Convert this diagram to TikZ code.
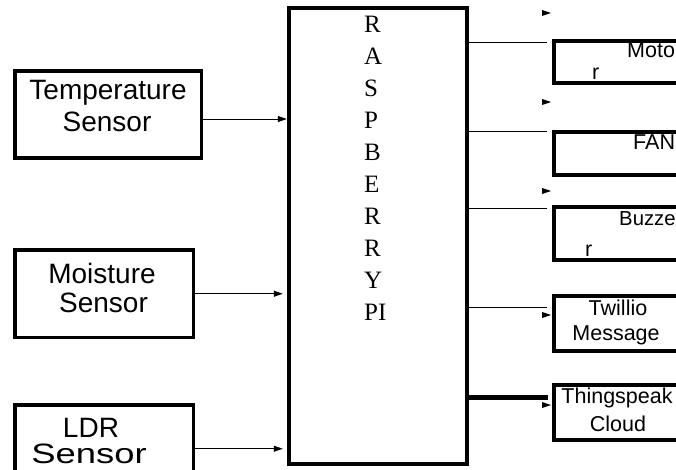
\documentclass[tikz,border=0pt]{standalone}
\usepackage{fontspec}
\setmainfont{Liberation Serif}
\newfontfamily\arialfont{Liberation Sans}
\usetikzlibrary{arrows.meta}
\begin{document}
\begin{tikzpicture}[x=1pt,y=-1pt,
  sensorbox/.style={draw, line width=3.5pt, inner sep=0pt},
  outbox/.style={draw, line width=4pt, inner sep=0pt, minimum width=130pt, anchor=north west},
  bigtxt/.style={font=\arialfont\fontsize{28}{32}\selectfont, inner sep=0pt, anchor=base},
  smalltxt/.style={font=\arialfont\fontsize{21.5}{25}\selectfont, inner sep=0pt},
  rpitxt/.style={font=\fontsize{25}{30}\selectfont, inner sep=0pt, anchor=base west},
  conn/.style={line width=0.8pt},
  arr/.style={conn, -{Triangle[length=9pt,width=6pt]}},
]
\useasboundingbox (0,0) rectangle (676,470);
\fill[white] (0,0) rectangle (676,470);
\clip (0,0) rectangle (676,470);

% main block
\node[draw, line width=4.5pt, inner sep=0pt, minimum width=178pt, minimum height=456pt] (rpi) at (378,236) {};
\foreach \t [count=\i from 0] in {R,A,S,P,B,E,R,R,Y,PI}
  \node[rpitxt] (l\i) at (364,{33+31.9*\i}) {\t};

% sensors
\node[sensorbox, minimum width=186.5pt, minimum height=87pt] (temp) at (108.25,114.5) {};
\node[sensorbox, minimum width=178.5pt, minimum height=87.5pt] (moist) at (104.25,293.75) {};
\node[sensorbox, minimum width=178.5pt, minimum height=87.5pt] (ldr) at (104.25,448.75) {};
\node[bigtxt] (t1) at (108,100) {Temperature};
\node[bigtxt] (t2) at (107,132) {Sensor};
\node[bigtxt] (m1) at (102,283) {Moisture};
\node[bigtxt] (m2) at (103.5,312) {Sensor};
\node[bigtxt] (d1) at (91,437) {LDR};
\node[bigtxt, font=\arialfont\fontsize{28}{32}\selectfont, xscale=1.3] (d2) at (89,463.5) {Sensor};

% outputs
\node[outbox, minimum height=42.5pt] (motor) at (552,39) {};
\node[outbox, minimum height=43.5pt] (fan) at (552,130) {};
\node[outbox, minimum height=53pt] (buzz) at (552,205) {};
\node[outbox, minimum height=55.5pt] (twil) at (552,293.5) {};
\node[outbox, minimum height=55pt] (thing) at (552,382.5) {};

\node[smalltxt, anchor=base west] (mo1) at (627,58) {Moto};
\node[smalltxt, anchor=base west] (mo2) at (592,80) {r};
\node[smalltxt, anchor=base west] (fa1) at (633,150) {FAN};
\node[smalltxt, anchor=base west, font=\arialfont\fontsize{20.3}{25}\selectfont] (bu1) at (619,225) {Buzze};
\node[smalltxt, anchor=base west] (bu2) at (585,256) {r};
\node[smalltxt, anchor=base] (tw1) at (618,315) {Twillio};
\node[smalltxt, anchor=base] (tw2) at (616,340) {Message};
\node[smalltxt, anchor=base] (th1) at (617,403) {Thingspeak};
\node[smalltxt, anchor=base] (th2) at (618,431) {Cloud};

% input connectors
\draw[arr] (temp.east |- 0,119) -- (rpi.west |- 0,119);
\draw[arr, shorten >=4pt] (moist.east) -- (rpi.west |- moist.east);
\draw[arr, shorten >=4pt] (ldr.east) -- (rpi.west |- ldr.east);

% output connectors
\draw[conn, shorten >=5pt] (rpi.east |- 0,42) -- (motor.west |- 0,42);
\draw[conn, shorten >=5pt] (rpi.east |- 0,131) -- (fan.west |- 0,131);
\draw[conn, shorten >=5pt] (rpi.east |- 0,208) -- (buzz.west |- 0,208);
\draw[conn, shorten >=5pt] (rpi.east |- 0,307) -- (twil.west |- 0,307);
\draw[line width=4.5pt, shorten >=4pt] (rpi.east |- 0,397.5) -- (thing.west |- 0,397.5);

% stray arrow heads
\foreach \yy in {13,102,191,315,405}
  \fill (542,{\yy-3}) -- (551,\yy) -- (542,{\yy+3}) -- cycle;
\end{tikzpicture}
\end{document}
